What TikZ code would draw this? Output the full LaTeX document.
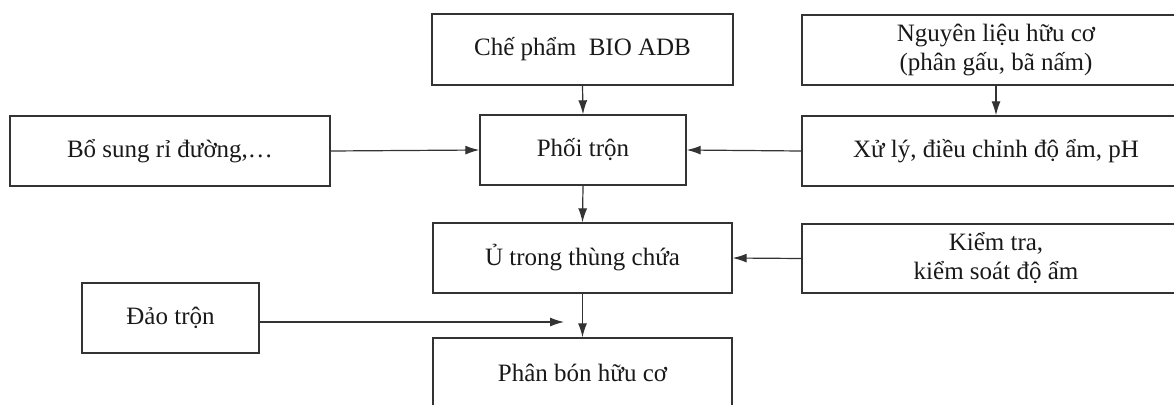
\documentclass[tikz,border=0pt]{standalone}
\usepackage{fontspec}
\setmainfont{Liberation Serif}
\usetikzlibrary{arrows.meta}
\begin{document}
\begin{tikzpicture}[x=1pt,y=-1pt,
  stepbox/.style={draw=black!80, line width=1.4pt, rectangle, inner sep=0pt,
    align=center, font=\fontsize{25}{29}\selectfont, text=black!90},
  flow/.style={draw=black!80, line width=1.2pt,
    -{Latex[length=14pt,width=9pt]}}]
\useasboundingbox (0,0) rectangle (1174,404);
\clip (0,0) rectangle (1174,404);
% top row
\node[stepbox, minimum width=301pt, minimum height=71pt] (che) at (582.5,49.5) {Chế phẩm\ \ BIO ADB};
\node[stepbox, minimum width=388pt, minimum height=70pt] (nguyen) at (996,50) {Nguyên liệu hữu cơ\\(phân gấu, bã nấm)};
% mixing row
\node[stepbox, minimum width=320pt, minimum height=70pt] (bosung) at (170,151) {Bổ sung rỉ đường,…};
\node[stepbox, minimum width=206pt, minimum height=70pt] (phoi) at (583,150) {Phối trộn};
\node[stepbox, minimum width=388pt, minimum height=70pt] (xuly) at (996,151) {Xử lý, điều chỉnh độ ẩm, pH};
% composting row
\node[stepbox, minimum width=299pt, minimum height=70pt] (u) at (582.5,258) {Ủ trong thùng chứa};
\node[stepbox, minimum width=388pt, minimum height=69pt] (kiem) at (996,258.5) {Kiểm tra,\\kiểm soát độ ẩm};
\node[stepbox, minimum width=177pt, minimum height=70pt] (dao) at (170.5,318) {Đảo trộn};
\node[stepbox, minimum width=299pt, minimum height=70pt] (phan) at (582.5,373) {Phân bón hữu cơ};
\coordinate (daoend) at (564,322);
% connectors
\draw[flow] (che.south) -- (phoi.north);
\draw[flow] (nguyen.south) -- (xuly.north);
\draw[flow] (bosung.east) -- (phoi.west);
\draw[flow] (xuly.west) -- (phoi.east);
\draw[flow] (phoi.south) -- (u.north);
\draw[flow] (kiem.west) -- (u.east);
\draw[flow] (u.south) -- (phan.north);
\draw[flow] (dao.east |- daoend) -- (daoend);
\end{tikzpicture}
\end{document}
